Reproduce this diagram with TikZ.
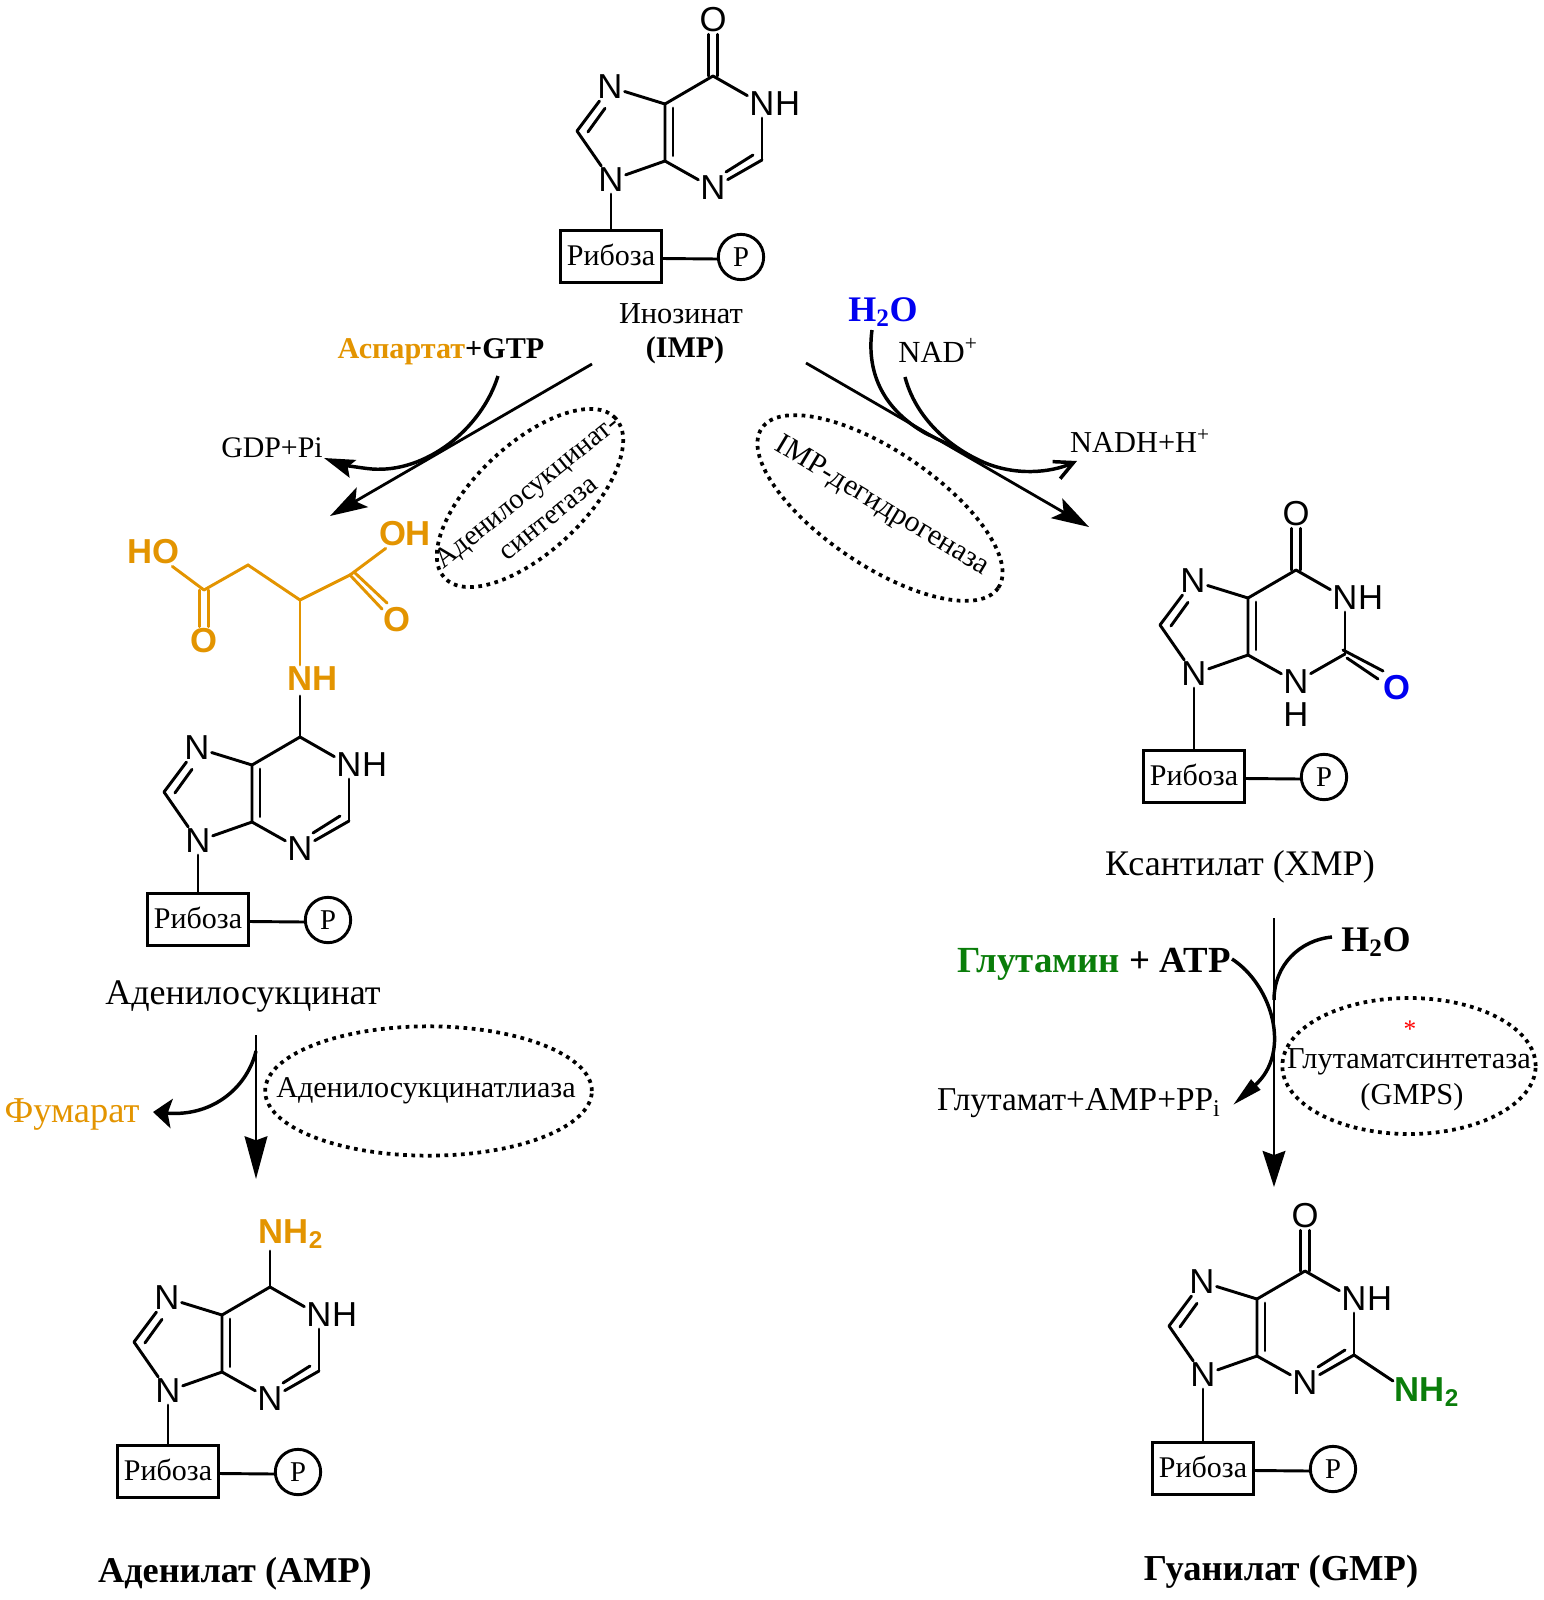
\documentclass[tikz,border=0pt]{standalone}
\usepackage{fontspec}
\setmainfont{Liberation Serif}
\newfontfamily\atomfont{Liberation Sans}
\usetikzlibrary{arrows.meta,shapes.geometric,calc}
\definecolor{orng}{HTML}{E39400}
\definecolor{grn}{HTML}{0A7D0A}
\definecolor{blu}{HTML}{0000F0}
\newcommand{\fsz}[1]{\fontsize{#1}{#1}\selectfont}
\tikzset{
  bond/.style={line width=2.2pt,line cap=round},
  obond/.style={line width=2.2pt,line cap=round,draw=orng},
  atom/.style={inner sep=1.6pt,outer sep=0pt,font=\atomfont\fsz{26}},
  oatom/.style={atom,text=orng,font=\atomfont\bfseries\fsz{26}},
  lbl/.style={inner sep=0pt,outer sep=0pt,align=center,font=\fsz{22.8}},
  boxnode/.style={draw,line width=2.2pt,minimum width=76pt,minimum height=39.5pt,inner sep=0pt,font=\fsz{22.5}},
  pnode/.style={draw,circle,line width=2.2pt,minimum size=34pt,inner sep=0pt,font=\fsz{21.5}},
  enz/.style={ellipse,draw,line width=2.8pt,dash pattern=on 2.8pt off 3.4pt,inner sep=0pt,outer sep=0pt},
  flow/.style={line width=2.1pt},
  curve/.style={line width=2.6pt},
}
\newcommand{\purine}[4]{%
\begin{scope}[shift={(#2,#3)}]
  \coordinate (#1C6) at (713,76);
  \coordinate (#1C5) at (665,104);
  \coordinate (#1C4) at (665,161);
  \coordinate (#1C8) at (577,131);
  \coordinate (#1C2) at (762,160);
  \node[atom] (#1N7) at (610,87) {N};
  \node[atom] (#1N9) at (611,180) {N};
  \node[atom] (#1N1) at (762,104) {N};
  \node[atom,anchor=west,inner sep=0pt,xshift=-1.2pt] (#1H1) at (#1N1.east) {H};
  \node[atom] (#1N3) at (713,188) {N};
  \draw[bond] (#1C6) -- (#1C5) -- (#1C4);
  \draw[bond] ([xshift=6pt,yshift=-3pt]#1C5) -- ([xshift=6pt,yshift=4pt]#1C4);
  \draw[bond] (#1C5) -- (#1N7);
  \draw[bond] (#1C4) -- (#1N9);
  \draw[bond] (#1C8) -- (#1N9);
  \draw[bond] (#1C8) -- (#1N7);
  \draw[bond] ([xshift=8.2pt,yshift=-0.7pt]#1C8) -- ([xshift=21pt,yshift=17pt]#1C8);
  \draw[bond] (#1C6) -- (#1N1);
  \draw[bond] (#1N1) -- (#1C2);
  \draw[bond] (#1C4) -- (#1N3);
  \node[boxnode] (#1Box) at (611,{256.5+#4}) {\raisebox{2pt}{Рибоза}};
  \node[pnode] (#1P) at (741,{257+#4}) {P};
  \draw[bond] (#1N9) -- (#1Box);
  \draw[bond] ([yshift=-1.5pt]#1Box.east) -- ([yshift=-1.5pt]#1P.west);
\end{scope}}
\newcommand{\ntwodbl}[1]{%
  \draw[bond] (#1N3) -- (#1C2);
  \draw[bond] ($(#1C2)+(-9,-5)$) -- ($(#1N3)+(13,-16)$);}
\begin{document}
\begin{tikzpicture}[x=0.75pt,y=-0.75pt]
\useasboundingbox (0,0) rectangle (1544,1600);

% IMP
\purine{I}{0}{0}{0}
\ntwodbl{I}
\node[atom] (IO) at (713,20) {O};
\draw[bond] ([xshift=-3.3pt]IC6) -- ([xshift=-3.3pt]IO.south);
\draw[bond] ([xshift=3.3pt]IC6) -- ([xshift=3.3pt]IO.south);
\node[lbl] (Ilab) at (681,314) {Инозинат};
\node[lbl,font=\bfseries\fsz{22.5}] (Ilab2) at (685,350) {(IMP)};

% Adenylosuccinate
\purine{S}{-413}{661}{2}
\ntwodbl{S}
\node[oatom] (SNH) at (313,679) {NH};
\coordinate (SNHb) at (300,679);
\coordinate (SNHc) at (300,696);
\draw[bond] (SC6) -- (SNHc);
\coordinate (OC1) at (204,590);
\coordinate (OC2) at (248,565);
\coordinate (OC3) at (300,600);
\coordinate (OC4) at (350,575);
\node[oatom] (OHO) at (153,552) {HO};
\node[oatom] (OO1) at (204,641) {O};
\node[oatom] (OOH) at (405,534) {OH};
\node[oatom] (OO2) at (397,620) {O};
\draw[obond] (OC1) -- (OC2) -- (OC3) -- (OC4);
\draw[obond] (OC1) -- (OHO);
\draw[obond] (OC4) -- (OOH);
\draw[obond] (OC3) -- (SNHb|-SNH.north);
\draw[obond] ([xshift=-3.3pt]OC1) -- ([xshift=-3.3pt]OO1.north);
\draw[obond] ([xshift=3.3pt]OC1) -- ([xshift=3.3pt]OO1.north);
\draw[obond] (OC4) -- ($(OC4)+(32,34)$);
\draw[obond] ($(OC4)+(4,-3)$) -- ($(OC4)+(37,28)$);
\node[lbl,font=\fsz{27}] (Slab) at (243,996) {Аденилосукцинат};

% AMP
\purine{A}{-443}{1211}{4}
\ntwodbl{A}
\node[oatom,inner sep=0pt] (ANH) at (291,1234) {NH\textsubscript{2}};
\coordinate (ANHb) at (270,1251);
\draw[bond] (AC6) -- (ANHb);
\node[lbl,font=\bfseries\fsz{27.2}] (Alab) at (235,1574) {Аденилат (AMP)};

% XMP
\purine{X}{583}{494}{26}
\node[atom] (XO) at (1296,514) {O};
\draw[bond] ([xshift=-3.3pt]XC6) -- ([xshift=-3.3pt]XO.south);
\draw[bond] ([xshift=3.3pt]XC6) -- ([xshift=3.3pt]XO.south);
\node[atom] (XH3) at (1296,715) {H};
\node[oatom,text=blu] (XO2) at (1397,688) {O};
\draw[bond] (XN3) -- (XC2);
\draw[bond] ($(XC2)+(-2,-4)$) -- ($(XO2)+(-14,-17)$);
\draw[bond] ($(XC2)+(2,4)$) -- ($(XO2)+(-19,-9)$);
\node[lbl,font=\fsz{27}] (Xlab) at (1240,867) {Ксантилат (XMP)};

% GMP
\purine{G}{592}{1195}{17}
\ntwodbl{G}
\node[atom] (GO) at (1305,1216) {O};
\draw[bond] ([xshift=-3.3pt]GC6) -- ([xshift=-3.3pt]GO.south);
\draw[bond] ([xshift=3.3pt]GC6) -- ([xshift=3.3pt]GO.south);
\node[oatom,text=grn,inner sep=0pt] (GNH) at (1427,1392) {NH\textsubscript{2}};
\coordinate (GNHb) at (1393,1381);
\draw[bond] (GC2) -- (GNHb);
\node[lbl,font=\bfseries\fsz{27.4}] (Glab) at (1281,1572) {Гуанилат (GMP)};

% Left upper reaction
\coordinate (La) at (592,364);
\coordinate (Lb) at (330,516);
\draw[flow,-{Stealth[length=28pt,width=17pt,inset=6pt]}] (La) -- (Lb);
\node[lbl,font=\bfseries\fsz{22.6}] (Asp) at (441,352) {\textcolor{orng}{Аспартат}+GTP};
\node[lbl,font=\fsz{22.4}] (Gdp) at (272,448) {GDP+Pi};
\coordinate (Lc) at (498,376);
\coordinate (Ld) at (324,458);
\draw[curve,-{Stealth[length=23pt,width=14pt,inset=4pt]}] (Lc) .. controls (481,430) and (425,473) .. (372,469) .. controls (360,468) and (340,464) .. (Ld);
\node[enz,rotate=43,minimum width=175.5pt,minimum height=81pt] (E1) at (530,498) {};
\node[lbl,rotate=39,font=\fsz{21.4}] (E1t) at (537,504) {Аденилосукцинат-\\[4pt]синтетаза};

% Right upper reaction
\coordinate (Ra) at (806,363);
\coordinate (Rb) at (1089,527);
\draw[flow,-{Stealth[length=28pt,width=17pt,inset=6pt]}] (Ra) -- (Rb);
\node[lbl,font=\bfseries\fsz{27},text=blu] (W1) at (883,312) {H\textsubscript{2}O};
\node[lbl,font=\fsz{23}] (Nad) at (938,350) {NAD\textsuperscript{+}};
\node[lbl,font=\fsz{22.8}] (Nadh) at (1140,441) {NADH+H\textsuperscript{+}};
\coordinate (Rc) at (872,330);
\coordinate (Rd) at (960,450);
\draw[curve] (Rc) .. controls (866,375) and (885,410) .. (925,433) -- (Rd);
\coordinate (Re) at (905,377);
\coordinate (Rf) at (1077,461);
\draw[curve,-{Straight Barb[length=14pt,width=14pt]}] (Re) .. controls (915,415) and (945,445) .. (983,462) .. controls (1015,476) and (1050,473) .. (Rf);
\node[enz,rotate=-34,minimum width=214pt,minimum height=86pt] (E2) at (880,508) {};
\node[lbl,rotate=-31,font=\fsz{22.4}] (E2t) at (882,507) {IMP-дегидрогеназа};

% Left lower reaction
\coordinate (Ma) at (256,1035);
\coordinate (Mb) at (256,1179);
\draw[flow,-{Stealth[length=32pt,width=17pt,inset=3pt]}] (Ma) -- (Mb);
\coordinate (Mc) at (256,1051);
\coordinate (Md) at (153,1112);
\draw[curve,-{Stealth[length=14pt,width=22pt,inset=3pt]}] (Mc) .. controls (248,1085) and (215,1117) .. (Md);
\node[lbl,text=orng,font=\fsz{27.3}] (Fum) at (72,1114) {Фумарат};
\node[enz,minimum width=245pt,minimum height=97pt] (E3) at (428.5,1091) {};
\node[lbl,font=\fsz{22.6}] (E3t) at (426,1091) {Аденилосукцинатлиаза};

% Right lower reaction
\coordinate (Pa) at (1274,918);
\coordinate (Pb) at (1274,1187);
\draw[flow,-{Stealth[length=27pt,width=17pt,inset=3pt]}] (Pa) -- (Pb);
\node[lbl,font=\bfseries\fsz{27}] (W2) at (1376,942) {H\textsubscript{2}O};
\node[lbl,font=\bfseries\fsz{27.6}] (Gln) at (1094,964) {\textcolor{grn}{Глутамин} + ATP};
\coordinate (Pc) at (1332,937);
\coordinate (Pd) at (1274,1000);
\draw[curve] (Pc) .. controls (1300,940) and (1274,965) .. (Pd);
\coordinate (Pe) at (1232,959);
\coordinate (Pf) at (1233,1105);
\draw[curve,-{Stealth[length=23pt,width=10pt,inset=0pt]}] (Pe) .. controls (1272,985) and (1292,1052) .. (Pf);
\node[lbl,font=\fsz{25},anchor=base west] (Glu) at (937,1110) {Глутамат+AMP+PP\raisebox{-5pt}{\fsz{18}i}};
\node[enz,minimum width=190pt,minimum height=102pt] (E4) at (1409,1066) {};
\node[lbl,text=red,font=\fsz{19}] (Star) at (1410,1029) {*};
\node[lbl,font=\fsz{22.8}] (E4a) at (1409,1062) {Глутаматсинтетаза};
\node[lbl,font=\fsz{22.8}] (E4b) at (1412,1097) {(GMPS)};
\end{tikzpicture}
\end{document}
